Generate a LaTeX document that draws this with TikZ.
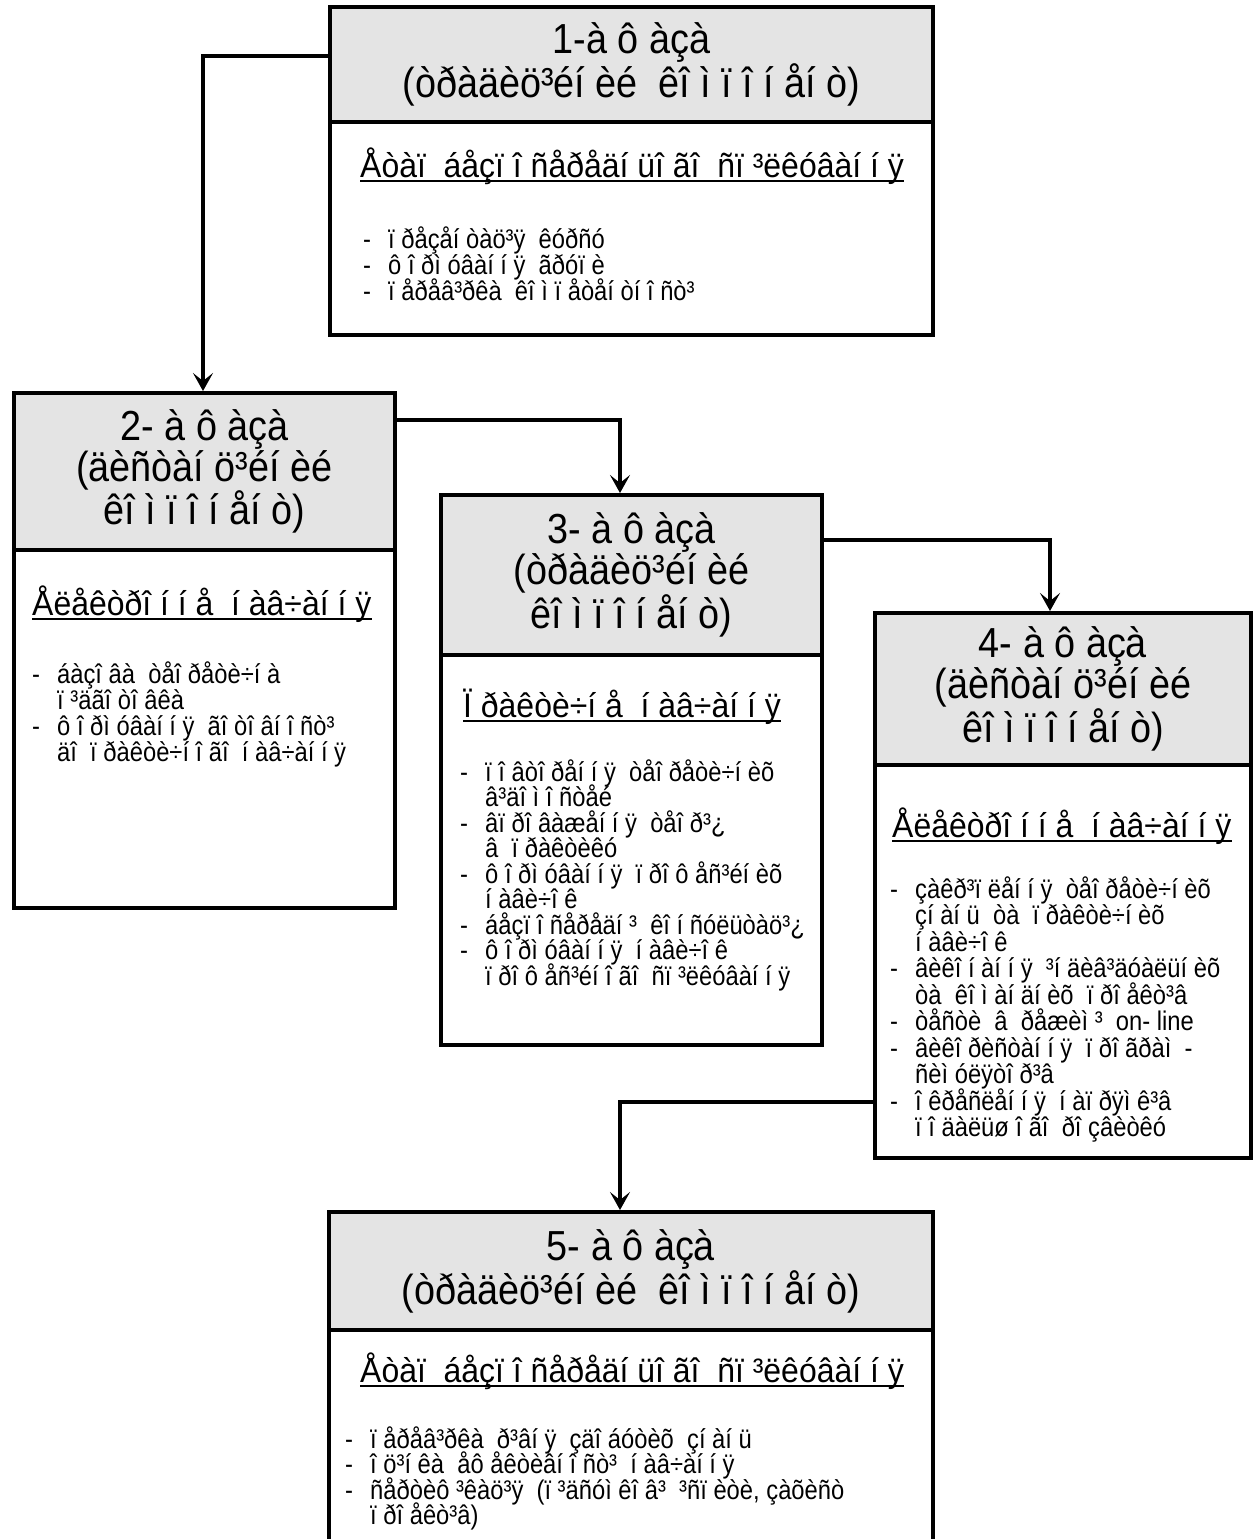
\documentclass[tikz,border=0pt]{standalone}
\usepackage{fontspec}
\setmainfont{Liberation Sans}
\newfontfamily\hdrfont[FakeStretch=0.9]{Liberation Sans}
\newfontfamily\headfont[FakeStretch=0.94]{Liberation Sans}
\newfontfamily\lstfont[FakeStretch=0.88]{Liberation Sans}
\usetikzlibrary{arrows.meta,calc}
\definecolor{hdrgray}{RGB}{228,228,228}
\newcommand\itm{\makebox[25pt][l]{-}}
\newcommand\cnt{\hspace*{25pt}}
\begin{document}
\begin{tikzpicture}[x=1pt,y=-1pt,
  frame/.style={draw=black, line width=4pt, inner sep=0pt, outer sep=0pt},
  hdrbox/.style={frame, fill=hdrgray, font=\hdrfont\fontsize{42}{39}\selectfont, align=center},
  bodybox/.style={frame, fill=white},
  headtxt/.style={font=\headfont\fontsize{34}{34}\selectfont, anchor=base west, inner sep=0pt},
  lst/.style={font=\lstfont\fontsize{27}{26}\selectfont, anchor=base west, inner sep=0pt},
  uline/.style={line width=2.5pt},
  conn/.style={line width=4pt, -{Stealth[length=18pt,width=20pt,inset=8pt]}}
]
\useasboundingbox (0,0) rectangle (1260,1539);
\fill[white] (0,0) rectangle (1260,1539);

% ---------- Box 1 ----------
\node[bodybox, minimum width=603, minimum height=213] (b1) at (631.5,228.5) {};
\node[hdrbox, minimum width=603, minimum height=115] (h1) at (631.5,64.5)
  {1-à ô àçà\\(òðàäèö³éí èé~ êî ì ï î í åí ò)};
\node[headtxt] (t1) at (360,177) {Åòàï~ áåçï î ñåðåäí üî ãî~ ñï ³ëêóâàí í ÿ};
\draw[uline] ($(t1.base west)+(0,4)$) -- ($(t1.base east)+(0,4)$);
\foreach \t [count=\i from 0] in {
  {\itm ï ðåçåí òàö³ÿ~ êóðñó},
  {\itm ô î ðì óâàí í ÿ~ ãðóï è},
  {\itm ï åðåâ³ðêà~ êî ì ï åòåí òí î ñò³}}
  \node[lst] (l1-\i) at (363,248+26*\i) {\t};

% ---------- Box 2 ----------
\node[bodybox, minimum width=381, minimum height=358] (b2) at (204.5,729) {};
\node[hdrbox, minimum width=381, minimum height=157] (h2) at (204.5,471.5)
  {2- à ô àçà\\(äèñòàí ö³éí èé\\êî ì ï î í åí ò)};
\node[headtxt] (t2) at (32,615) {Åëåêòðî í í å~ í àâ÷àí í ÿ};
\draw[uline] ($(t2.base west)+(0,4)$) -- ($(t2.base east)+(0,4)$);
\foreach \t [count=\i from 0] in {
  {\itm áàçî âà~ òåî ðåòè÷í à},
  {\cnt ï ³äãî òî âêà},
  {\itm ô î ðì óâàí í ÿ~ ãî òî âí î ñò³},
  {\cnt äî~ ï ðàêòè÷í î ãî~ í àâ÷àí í ÿ}}
  \node[lst] (l2-\i) at (32,683+26*\i) {\t};

% ---------- Box 3 ----------
\node[bodybox, minimum width=381, minimum height=390] (b3) at (631.5,850) {};
\node[hdrbox, minimum width=381, minimum height=160] (h3) at (631.5,575)
  {3- à ô àçà\\(òðàäèö³éí èé\\êî ì ï î í åí ò)};
\node[headtxt] (t3) at (463,717) {Ï ðàêòè÷í å~ í àâ÷àí í ÿ};
\draw[uline] ($(t3.base west)+(0,4)$) -- ($(t3.base east)+(0,4)$);
\foreach \t [count=\i from 0] in {
  {\itm ï î âòî ðåí í ÿ~ òåî ðåòè÷í èõ},
  {\cnt â³äî ì î ñòåé},
  {\itm âï ðî âàæåí í ÿ~ òåî ð³¿},
  {\cnt â~ ï ðàêòèêó},
  {\itm ô î ðì óâàí í ÿ~ ï ðî ô åñ³éí èõ},
  {\cnt í àâè÷î ê},
  {\itm áåçï î ñåðåäí ³~ êî í ñóëüòàö³¿},
  {\itm ô î ðì óâàí í ÿ~ í àâè÷î ê},
  {\cnt ï ðî ô åñ³éí î ãî~ ñï ³ëêóâàí í ÿ}}
  \node[lst] (l3-\i) at (460,781+25.5*\i) {\t};

% ---------- Box 4 ----------
\node[bodybox, minimum width=376, minimum height=393] (b4) at (1063,961.5) {};
\node[hdrbox, minimum width=376, minimum height=152] (h4) at (1063,689)
  {4- à ô àçà\\(äèñòàí ö³éí èé\\êî ì ï î í åí ò)};
\node[headtxt] (t4) at (892,837) {Åëåêòðî í í å~ í àâ÷àí í ÿ};
\draw[uline] ($(t4.base west)+(0,4)$) -- ($(t4.base east)+(0,4)$);
\foreach \t [count=\i from 0] in {
  {\itm çàêð³ï ëåí í ÿ~ òåî ðåòè÷í èõ},
  {\cnt çí àí ü~ òà~ ï ðàêòè÷í èõ},
  {\cnt í àâè÷î ê},
  {\itm âèêî í àí í ÿ~ ³í äèâ³äóàëüí èõ},
  {\cnt òà~ êî ì àí äí èõ~ ï ðî åêò³â},
  {\itm òåñòè~ â~ ðåæèì ³~ on- line},
  {\itm âèêî ðèñòàí í ÿ~ ï ðî ãðàì~ -},
  {\cnt ñèì óëÿòî ð³â},
  {\itm î êðåñëåí í ÿ~ í àï ðÿì ê³â},
  {\cnt ï î äàëüø î ãî~ ðî çâèòêó}}
  \node[lst] (l4-\i) at (890,898+26.5*\i) {\t};

% ---------- Box 5 ----------
\node[bodybox, minimum width=604, minimum height=240] (b5) at (631,1450) {};
\node[hdrbox, minimum width=604, minimum height=118] (h5) at (631,1271)
  {5- à ô àçà\\(òðàäèö³éí èé~ êî ì ï î í åí ò)};
\node[headtxt] (t5) at (360,1382) {Åòàï~ áåçï î ñåðåäí üî ãî~ ñï ³ëêóâàí í ÿ};
\draw[uline] ($(t5.base west)+(0,4)$) -- ($(t5.base east)+(0,4)$);
\foreach \t [count=\i from 0] in {
  {\itm ï åðåâ³ðêà~ ð³âí ÿ~ çäî áóòèõ~ çí àí ü},
  {\itm î ö³í êà~ åô åêòèâí î ñò³~ í àâ÷àí í ÿ},
  {\itm ñåðòèô ³êàö³ÿ~ (ï ³äñóì êî â³~ ³ñï èòè, çàõèñò},
  {\cnt ï ðî åêò³â)}}
  \node[lst] (l5-\i) at (345,1448+25.5*\i) {\t};

% ---------- connectors ----------
\draw[conn] ($(h1.north west)+(0,49)$) -| ($(h2.north)+(-1.5,-2)$);
\draw[conn] ($(h2.north east)+(0,27)$) -| ($(h3.north)+(-11.5,-2)$);
\draw[conn] ($(h3.north east)+(0,45)$) -| ($(h4.north)+(-13,-2)$);
\draw[conn] ($(b4.south west)+(0,-56)$) -| ($(h5.north)+(-11,-2)$);
\end{tikzpicture}
\end{document}
